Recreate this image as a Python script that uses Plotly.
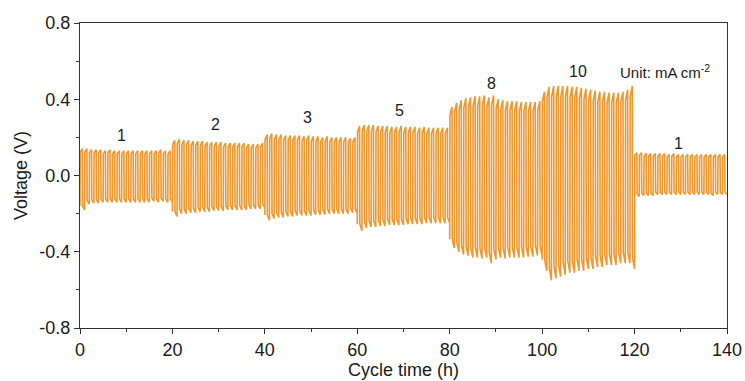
import plotly.graph_objects as go

# Current densities (mA cm^-2) of each 20 h segment
currents = ["1", "2", "3", "5", "8", "10", "1"]
segment_hours = 20

# Per-cycle peak (charge) voltages, V
upper_1a = [0.14, 0.14, 0.135, 0.135, 0.135, 0.13, 0.135, 0.13, 0.13, 0.13, 0.13, 0.13, 0.13, 0.13, 0.13, 0.13, 0.13, 0.135, 0.13, 0.13]
upper_2 = [0.185, 0.19, 0.185, 0.185, 0.18, 0.18, 0.18, 0.175, 0.175, 0.175, 0.175, 0.17, 0.17, 0.17, 0.17, 0.17, 0.165, 0.165, 0.165, 0.17]
upper_3 = [0.215, 0.22, 0.215, 0.215, 0.21, 0.21, 0.21, 0.21, 0.205, 0.21, 0.205, 0.205, 0.2, 0.205, 0.2, 0.2, 0.2, 0.2, 0.195, 0.2]
upper_5 = [0.26, 0.265, 0.265, 0.265, 0.26, 0.26, 0.26, 0.255, 0.255, 0.26, 0.255, 0.255, 0.255, 0.25, 0.255, 0.25, 0.25, 0.25, 0.25, 0.25]
upper_8 = [0.36, 0.38, 0.395, 0.405, 0.41, 0.415, 0.415, 0.42, 0.41, 0.42, 0.40, 0.395, 0.39, 0.39, 0.39, 0.385, 0.385, 0.385, 0.385, 0.39]
upper_10 = [0.44, 0.465, 0.47, 0.47, 0.47, 0.47, 0.465, 0.465, 0.46, 0.455, 0.45, 0.445, 0.44, 0.44, 0.435, 0.435, 0.435, 0.44, 0.45, 0.47]
upper_1b = [0.12, 0.12, 0.115, 0.115, 0.115, 0.115, 0.115, 0.11, 0.115, 0.11, 0.11, 0.11, 0.11, 0.11, 0.11, 0.11, 0.11, 0.11, 0.11, 0.11]

# Per-cycle trough (discharge) voltages, V
lower_1a = [-0.18, -0.15, -0.145, -0.145, -0.14, -0.14, -0.14, -0.14, -0.14, -0.14, -0.14, -0.14, -0.14, -0.14, -0.14, -0.135, -0.14, -0.135, -0.14, -0.14]
lower_2 = [-0.215, -0.2, -0.2, -0.195, -0.195, -0.19, -0.19, -0.19, -0.185, -0.185, -0.185, -0.18, -0.18, -0.18, -0.18, -0.18, -0.175, -0.175, -0.175, -0.17]
lower_3 = [-0.235, -0.225, -0.22, -0.22, -0.215, -0.215, -0.21, -0.21, -0.21, -0.21, -0.205, -0.205, -0.205, -0.2, -0.2, -0.2, -0.2, -0.2, -0.195, -0.2]
lower_5 = [-0.29, -0.275, -0.27, -0.27, -0.265, -0.265, -0.26, -0.26, -0.26, -0.26, -0.255, -0.255, -0.255, -0.255, -0.25, -0.25, -0.25, -0.25, -0.25, -0.25]
lower_8 = [-0.38, -0.40, -0.415, -0.42, -0.43, -0.43, -0.435, -0.43, -0.46, -0.44, -0.43, -0.435, -0.43, -0.43, -0.43, -0.43, -0.425, -0.425, -0.42, -0.42]
lower_10 = [-0.50, -0.55, -0.54, -0.53, -0.52, -0.51, -0.51, -0.50, -0.50, -0.49, -0.49, -0.48, -0.48, -0.47, -0.47, -0.47, -0.46, -0.46, -0.46, -0.49]
lower_1b = [-0.11, -0.105, -0.105, -0.105, -0.10, -0.10, -0.10, -0.10, -0.10, -0.10, -0.10, -0.10, -0.10, -0.10, -0.10, -0.10, -0.105, -0.10, -0.10, -0.10]

uppers = [upper_1a, upper_2, upper_3, upper_5, upper_8, upper_10, upper_1b]
lowers = [lower_1a, lower_2, lower_3, lower_5, lower_8, lower_10, lower_1b]

# Axis ticks
x_ticks = [0, 20, 40, 60, 80, 100, 120, 140]
y_ticks = [-0.8, -0.4, 0.0, 0.4, 0.8]
y_ticktext = ["-0.8", "-0.4", "0.0", "0.4", "0.8"]

# Label positions (h, V)
label_x = [8.9, 29.4, 49.3, 69.2, 89.1, 107.8, 129.4]
label_y = [0.21, 0.27, 0.305, 0.34, 0.485, 0.548, 0.17]

# Build the galvanostatic trace: each cycle = charge half then discharge half
t, v = [], []
for s, (up, lo) in enumerate(zip(uppers, lowers)):
    period = segment_hours / len(up)
    for c, (u, l) in enumerate(zip(up, lo)):
        t0 = s * segment_hours + c * period
        t += [t0, t0 + 0.05 * period, t0 + 0.5 * period,
              t0 + 0.55 * period, t0 + period]
        v += [0.88 * l if t else l, 0.88 * u, u, 0.88 * l, l]

color = "#F0962D"
fam = "Liberation Sans, Arial, sans-serif"
fig = go.Figure()
fig.add_trace(go.Scatter(x=t, y=v, mode="lines",
                         line=dict(color=color, width=1.6),
                         showlegend=False, hoverinfo="skip"))

for lx, ly, txt in zip(label_x, label_y, currents):
    fig.add_annotation(x=lx, y=ly, text=txt, showarrow=False,
                       font=dict(family=fam, size=16, color="#1a1a1a"))
fig.add_annotation(x=126.6, y=0.545, text="Unit: mA cm<sup>-2</sup>",
                   showarrow=False,
                   font=dict(family=fam, size=15, color="#1a1a1a"))

axis_common = dict(showline=True, linecolor="#333", linewidth=1.2, mirror=True,
                   ticks="outside", ticklen=5, tickcolor="#333", showgrid=False,
                   zeroline=False, automargin=False,
                   tickfont=dict(family=fam, size=18, color="#1a1a1a"),
                   title_font=dict(family=fam, size=18, color="#1a1a1a"))
fig.update_xaxes(range=[0, 140], tickmode="array", tickvals=x_ticks,
                 minor=dict(ticks="outside", dtick=10, tick0=0, ticklen=3, tickcolor="#333"),
                 title_text="Cycle time (h)", title_standoff=2, **axis_common)
fig.update_yaxes(range=[-0.8, 0.8], tickmode="array", tickvals=y_ticks,
                 ticktext=y_ticktext,
                 minor=dict(ticks="outside", dtick=0.2, tick0=-0.8, ticklen=3, tickcolor="#333"),
                 title_text="Voltage (V)", title_standoff=6, **axis_common)
fig.update_layout(width=745, height=381, margin=dict(l=80, r=18, t=23, b=53),
                  plot_bgcolor="white", paper_bgcolor="white")
fig.write_html("out.html")
